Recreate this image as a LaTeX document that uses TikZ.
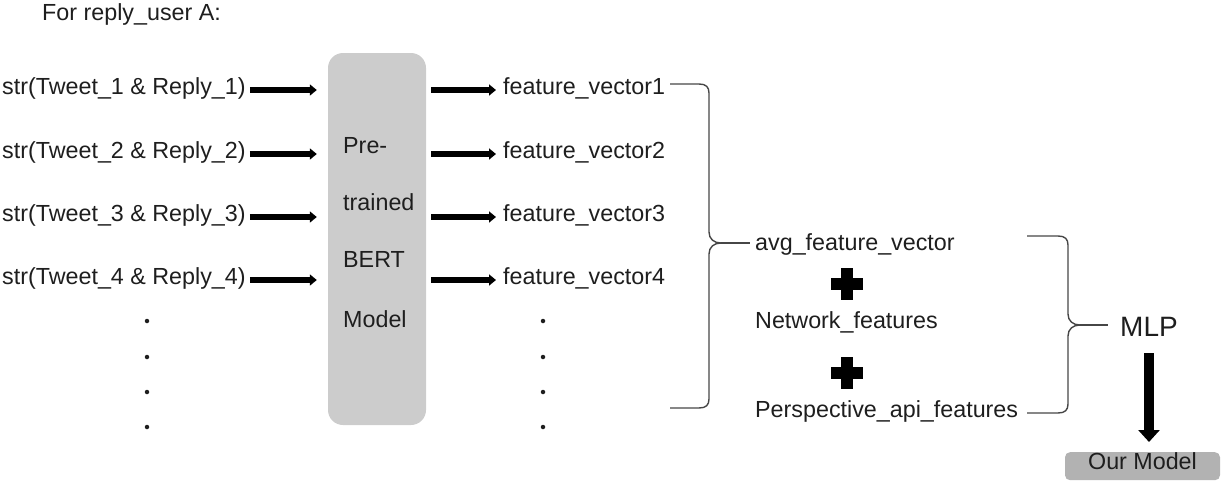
\documentclass[tikz,border=0pt]{standalone}
\usepackage{fontspec}
\setmainfont{Liberation Sans}
\usetikzlibrary{arrows.meta}
\definecolor{txt}{RGB}{30,30,30}
\definecolor{boxgray}{RGB}{204,204,204}
\definecolor{modelgray}{RGB}{178,178,178}
\definecolor{bracegray}{RGB}{70,70,70}
\begin{document}
\begin{tikzpicture}[x=1pt,y=-1pt,
  font=\fontsize{23.3}{27}\selectfont,
  every node/.style={text=txt, inner sep=0pt},
  lbl/.style={anchor=base west, text height=14pt, text depth=6pt},
  fat/.style={draw=black, line width=5.5pt, -{Triangle[length=7pt,width=11pt]}},
  brc/.style={draw=bracegray, line width=1.4pt},
  dotn/.style={circle, fill=txt, minimum size=4.5pt},
  plusbar/.style={draw=black, line width=11.5pt}
]
\useasboundingbox (0,0) rectangle (1221,483);

% title
\node[lbl] (title) at (42,20.5) {For reply\_user A:};

% BERT box
\node[fill=boxgray, rounded corners=15pt, minimum width=98pt, minimum height=372pt] (bert) at (377,239) {};
\node[lbl] (b1) at (343,153) {Pre-};
\node[lbl] (b2) at (343,210) {trained};
\node[lbl] (b3) at (343,267) {BERT};
\node[lbl] (b4) at (343,327) {Model};

% inputs
\node[lbl] (s1) at (2,94) {str(Tweet\_1 \& Reply\_1)};
\node[lbl] (s2) at (2,158) {str(Tweet\_2 \& Reply\_2)};
\node[lbl] (s3) at (2,221) {str(Tweet\_3 \& Reply\_3)};
\node[lbl] (s4) at (2,284) {str(Tweet\_4 \& Reply\_4)};

% outputs
\node[lbl] (f1) at (503,94) {feature\_vector1};
\node[lbl] (f2) at (503,158) {feature\_vector2};
\node[lbl] (f3) at (503,221) {feature\_vector3};
\node[lbl] (f4) at (503,284) {feature\_vector4};

% arrows in / out
\foreach \i in {1,2,3,4}{
  \draw[fat, shorten <=4pt, shorten >=11pt] (s\i.east) -- (s\i.east -| bert.west);
  \draw[fat, shorten <=5pt, shorten >=7pt] (f\i.west -| bert.east) -- (f\i.west);
}

% dots
\foreach \y [count=\k] in {321,357,392,427}{
  \node[dotn] (dl\k) at (147,\y) {};
  \node[dotn] (dr\k) at (543,\y) {};
}

% feature combination
\node[lbl] (avg) at (755,250) {avg\_feature\_vector};
\node[lbl] (net) at (755,328) {Network\_features};
\node[lbl] (per) at (755,417) {Perspective\_api\_features};

\draw[plusbar] (831,284) -- (863,284);
\draw[plusbar] (847,268) -- (847,300);
\draw[plusbar] (831,373) -- (863,373);
\draw[plusbar] (847,357) -- (847,389);

% brace 1
\coordinate (t1) at (721,243);
\draw[brc] (670,84) -- (699,84) .. controls (706,84) and (709,87) .. (709,93)
  -- (709,232) .. controls (709,239) and (714,243) .. (t1);
\draw[brc] (670,408) -- (699,408) .. controls (706,408) and (709,405) .. (709,399)
  -- (709,254) .. controls (709,247) and (714,243) .. (t1);
\draw[brc, shorten >=5pt] (t1) -- (t1 -| avg.west);

% brace 2
\coordinate (t2) at (1080,325);
\draw[brc] (1027,236) -- (1058,236) .. controls (1065,236) and (1068,239) .. (1068,245)
  -- (1068,314) .. controls (1068,321) and (1073,325) .. (t2);
\draw[brc] (1027,413) -- (1058,413) .. controls (1065,413) and (1068,410) .. (1068,404)
  -- (1068,336) .. controls (1068,329) and (1073,325) .. (t2);

% MLP
\node[anchor=base west, font=\fontsize{28}{32}\selectfont, text height=20pt, text depth=0pt] (mlp) at (1120,336) {MLP};
\draw[brc, shorten >=12pt] (t2) -- (t2 -| mlp.west);

% Our Model
\node[anchor=north, fill=modelgray, rounded corners=5pt, minimum width=155pt,
      text height=15pt, text depth=9pt, inner ysep=2pt] (ourmodel) at (1142.5,452) {Our Model};

\draw[draw=black, line width=10pt, -{Triangle[length=12pt,width=21pt]}, shorten <=17pt, shorten >=10pt]
  (mlp.south -| 1149,0) -- (ourmodel.north -| 1149,0);
\end{tikzpicture}
\end{document}
